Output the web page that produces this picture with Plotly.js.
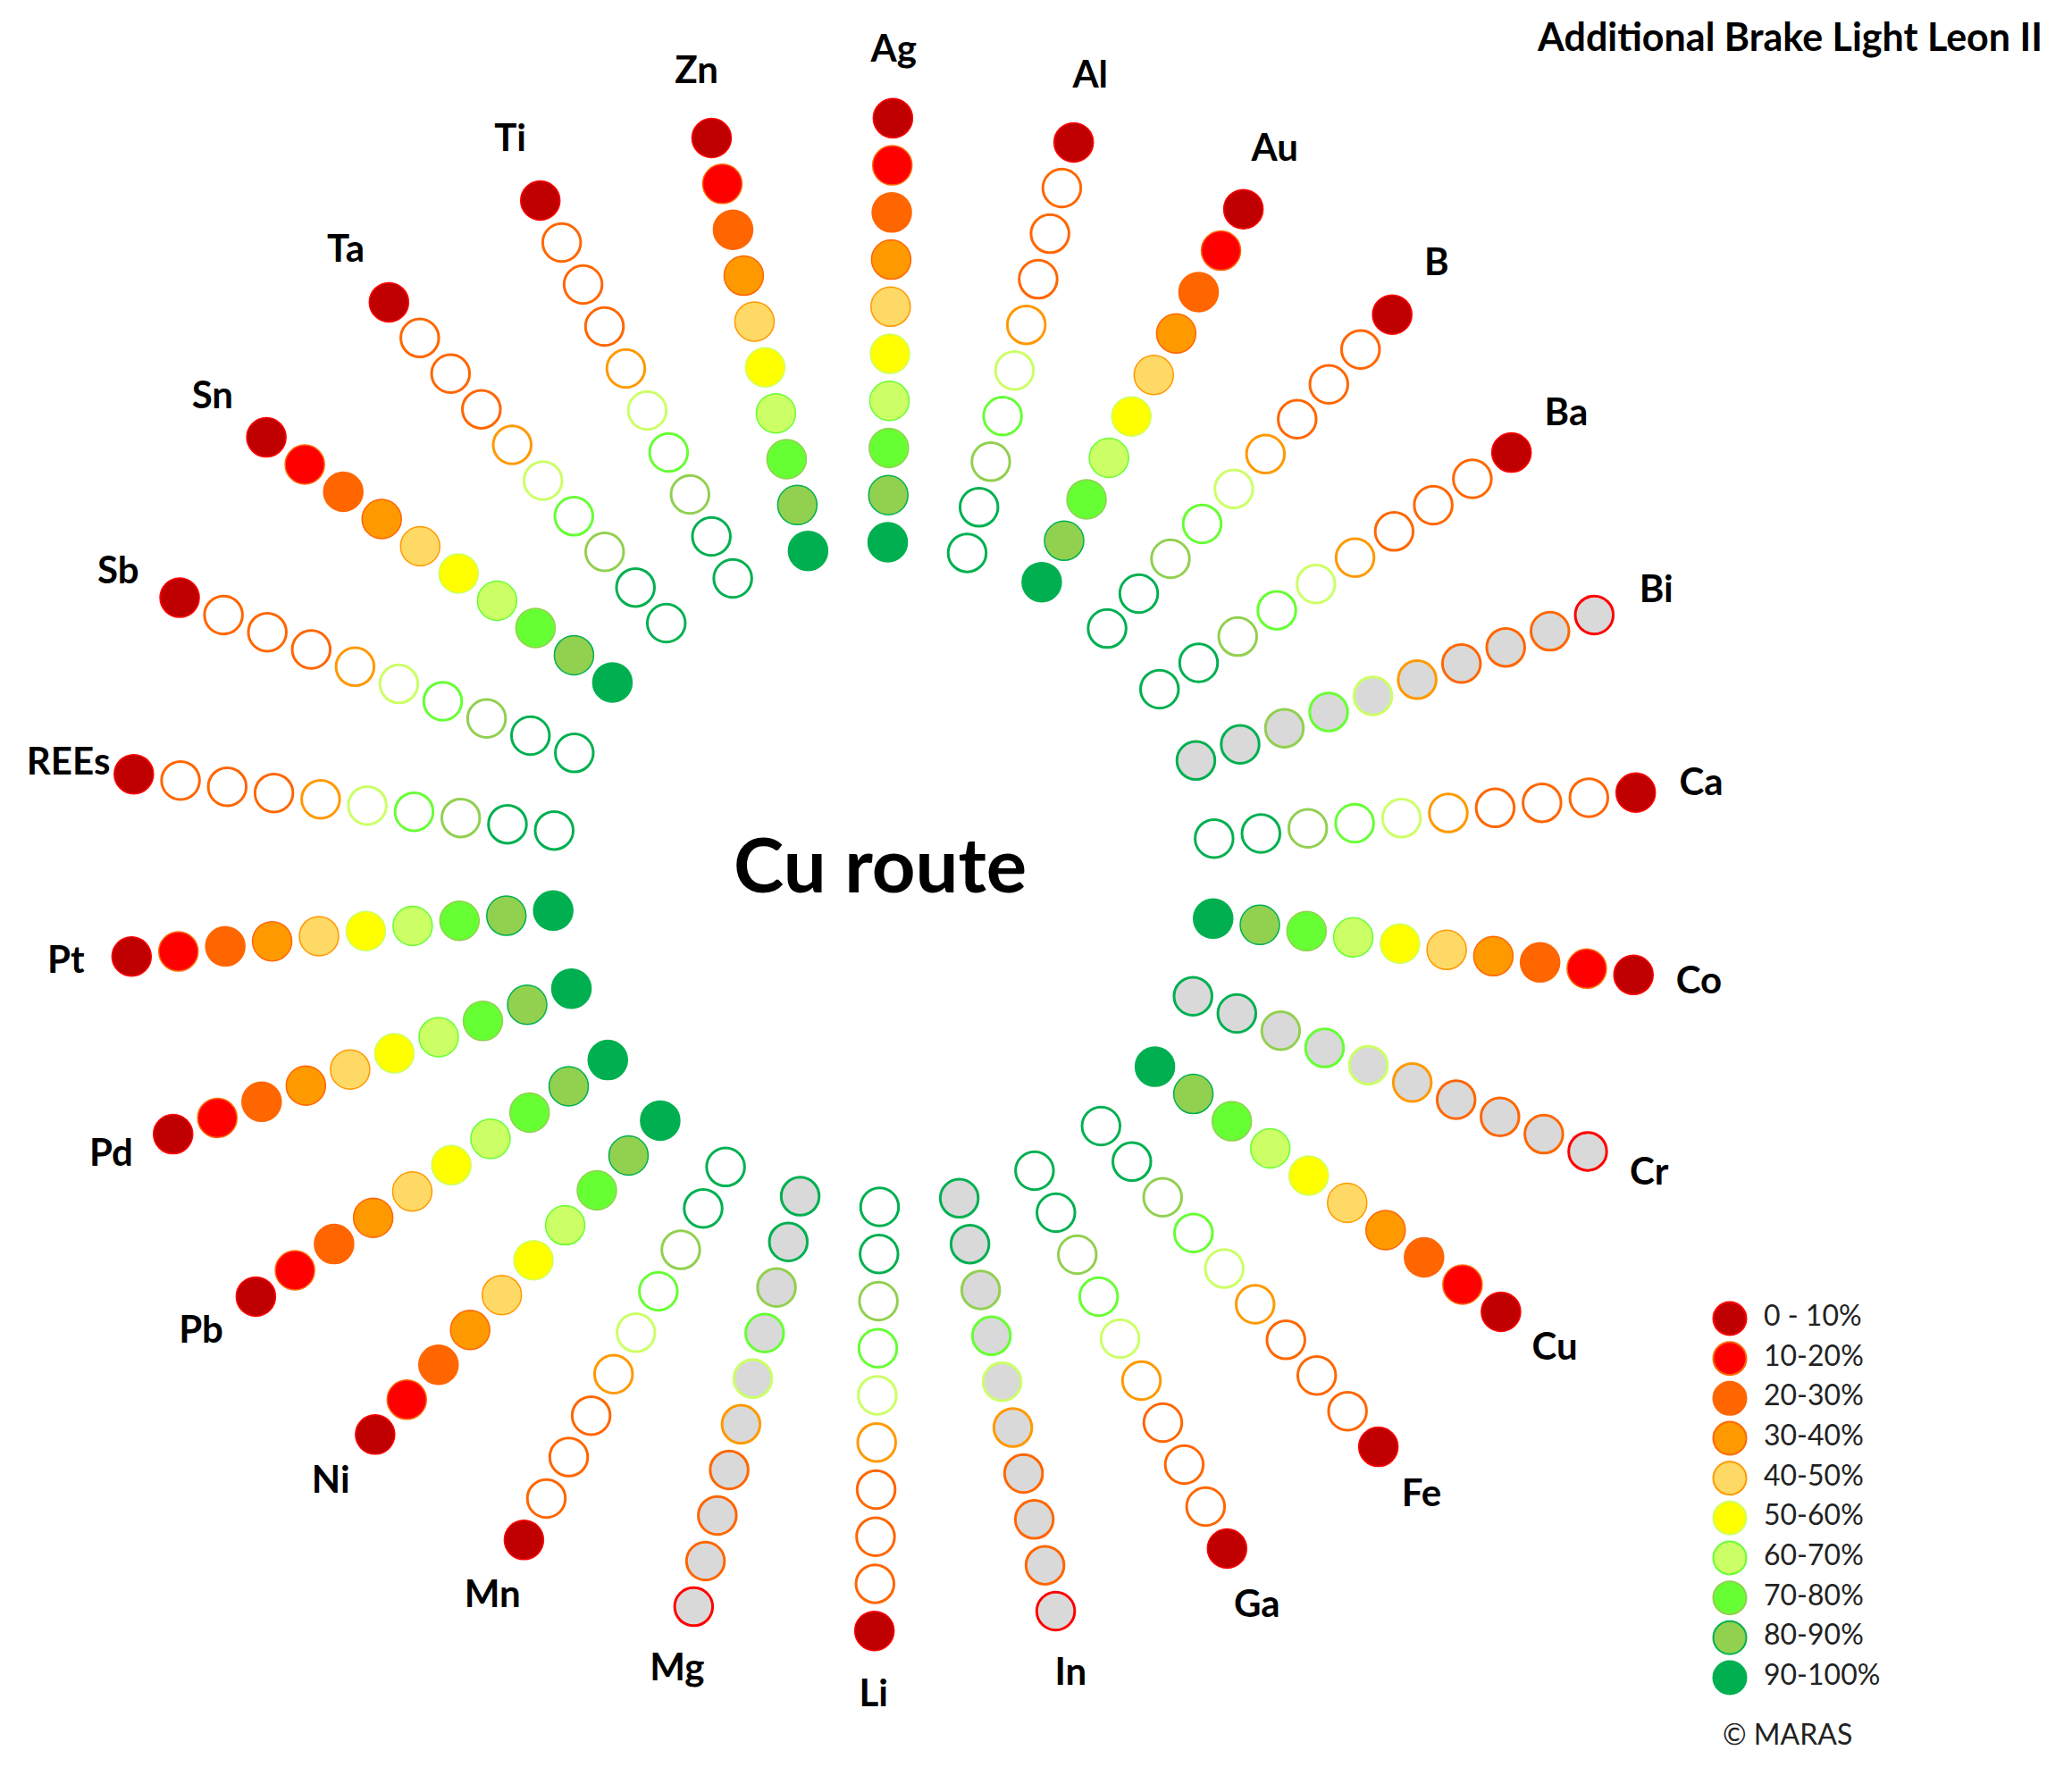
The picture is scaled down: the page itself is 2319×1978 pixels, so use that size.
<!DOCTYPE html>
<html>
<head>
<meta charset="utf-8">
<script src="https://cdn.plot.ly/plotly-3.0.1.min.js"></script>
<style>
  html, body { margin: 0; padding: 0; background: #ffffff; }
  #chart { width: 2319px; height: 1978px; }
</style>
</head>
<body>
<div id="chart"></div>
<script>
// ---------------- DATA ----------------
const elements = ['Ag','Al','Au','B','Ba','Bi','Ca','Co','Cr','Cu','Fe','Ga','In',
                  'Li','Mg','Mn','Ni','Pb','Pd','Pt','REEs','Sb','Sn','Ta','Ti','Zn'];
// number of recovery classes filled (counted from the 0-10% class)
const recoveredClasses = [10,1,10,1,1,0,1,10,0,10,1,1,0,1,0,1,10,10,10,10,1,1,10,1,1,10];
// elements whose recovery is not assessed (grey circles)
const greyElements = ['Bi','Cr','In','Mg'];
const classLabels = ['0 - 10%','10-20%','20-30%','30-40%','40-50%',
                     '50-60%','60-70%','70-80%','80-90%','90-100%'];
const classFill   = ['#C00000','#FF0000','#FF6600','#FF9900','#FFD966',
                     '#FFFF00','#CCFF66','#66FF33','#92D050','#00B050'];
const classBorder = ['#FF0000','#FF6600','#FF6600','#FF6600','#FF9900',
                     '#CCFF66','#66FF33','#92D050','#00B050','#00B050'];
const routeName = 'Cu route';
const productName = 'Additional Brake Light Leon II';
const copyright = '© MARAS';

// ---------------- STYLE ----------------
const FONT = 'Lato, "Open Sans", "Noto Sans", sans-serif';
const W = 2319, H = 1978;
const CX = 989, CY = 979;          // centre of the wheel (px)
const STEP = 52.74;                // px per radial unit
const R0 = 319.3;                  // px of r = 0
const RMAX = 12;
const R = R0 + STEP * RMAX;

const traces = [];
const nClass = classLabels.length;

elements.forEach((el, i) => {
  const grey = greyElements.includes(el);
  const fills = [], lines = [], widths = [], sizes = [];
  classLabels.forEach((lab, L) => {
    if (grey) {
      fills.push('#D9D9D9'); lines.push(classBorder[L]); widths.push(3); sizes.push(42.5);
    } else if (L < recoveredClasses[i]) {
      fills.push(classFill[L]); lines.push(classBorder[L]); widths.push(1.5); sizes.push(44);
    } else {
      fills.push('#FFFFFF'); lines.push(classBorder[L]); widths.push(3); sizes.push(42.5);
    }
  });
  traces.push({
    type: 'scatterpolar',
    mode: 'markers',
    r: classLabels.map((_, L) => nClass - L),
    theta: classLabels.map(() => el),
    marker: { size: sizes, color: fills, line: { color: lines, width: widths }, opacity: 1 },
    hoverinfo: 'skip',
    showlegend: false,
    cliponaxis: false
  });
});

// element labels
traces.push({
  type: 'scatterpolar',
  mode: 'text',
  r: elements.map(() => nClass + 1.4),
  theta: elements,
  text: elements,
  textposition: 'middle center',
  textfont: { family: FONT, size: 42, color: '#000000', weight: 700 },
  hoverinfo: 'skip',
  showlegend: false,
  cliponaxis: false
});

// legend markers
traces.push({
  type: 'scatter',
  mode: 'markers',
  xaxis: 'x', yaxis: 'y',
  x: classLabels.map(() => 0),
  y: classLabels,
  marker: { size: 37, color: classFill, line: { color: classBorder, width: 2 } },
  hoverinfo: 'skip',
  showlegend: false,
  cliponaxis: false
});
// legend labels
traces.push({
  type: 'scatter',
  mode: 'text',
  xaxis: 'x', yaxis: 'y',
  x: classLabels.map(() => 38),
  y: classLabels,
  text: classLabels,
  textposition: 'middle right',
  textfont: { family: FONT, size: 32, color: '#222222' },
  hoverinfo: 'skip',
  showlegend: false,
  cliponaxis: false
});

const layout = {
  width: W, height: H,
  margin: { l: 0, r: 0, t: 0, b: 0, pad: 0 },
  paper_bgcolor: '#ffffff',
  plot_bgcolor: '#ffffff',
  showlegend: false,
  font: { family: FONT },
  title: {
    text: '<b>' + productName + '</b>',
    font: { family: FONT, size: 43, color: '#000000' },
    xref: 'paper', yref: 'container',
    x: 2286 / W, xanchor: 'right',
    y: 1 - 42 / H, yanchor: 'middle'
  },
  polar: {
    domain: { x: [(CX - R) / W, (CX + R) / W], y: [(H - CY - R) / H, (H - CY + R) / H] },
    hole: R0 / R,
    bgcolor: 'rgba(0,0,0,0)',
    radialaxis: { range: [0, RMAX], visible: false, showgrid: false, showline: false, showticklabels: false, ticks: '' },
    angularaxis: {
      type: 'category', categoryorder: 'array', categoryarray: elements,
      direction: 'clockwise', rotation: 89.3,
      showgrid: false, showline: false, showticklabels: false, ticks: '', visible: false
    }
  },
  xaxis: {
    domain: [1900 / W, 1], range: [-36, 383],
    visible: false, showgrid: false, zeroline: false, fixedrange: true
  },
  yaxis: {
    domain: [(H - 1900.3) / H, (H - 1453.7) / H],
    type: 'category', categoryorder: 'array', categoryarray: classLabels,
    range: [9.5, -0.5],
    visible: false, showgrid: false, zeroline: false, fixedrange: true
  },
  annotations: [
    {
      text: '<b>' + routeName + '</b>',
      xref: 'paper', yref: 'paper',
      x: 985 / W, y: 1 - 966 / H, xanchor: 'center', yanchor: 'middle',
      showarrow: false,
      font: { family: FONT, size: 85, color: '#000000' }
    },
    {
      text: copyright,
      xref: 'paper', yref: 'paper',
      x: 1926 / W, y: 1 - 1940 / H, xanchor: 'left', yanchor: 'middle',
      showarrow: false,
      font: { family: FONT, size: 32, color: '#222222' }
    }
  ]
};

Plotly.newPlot('chart', traces, layout, { displayModeBar: false, staticPlot: true });
</script>
</body>
</html>
